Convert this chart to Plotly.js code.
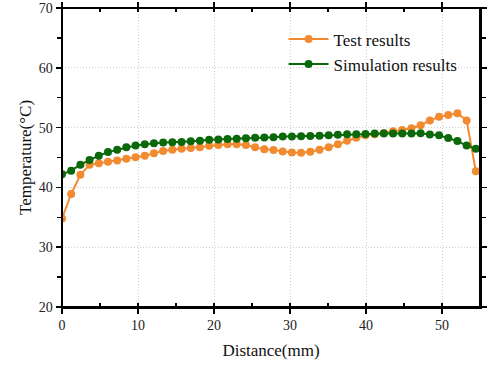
<!DOCTYPE html>
<html>
<head>
<meta charset="utf-8">
<script src="https://cdn.plot.ly/plotly-3.0.1.min.js"></script>
<style>html,body{margin:0;padding:0;background:#fff;}#chart{width:494px;height:368px;}</style>
</head>
<body>
<div id="chart"></div>
<script>
// Distance (mm)
var distance = [0, 1.21, 2.42, 3.63, 4.84, 6.05, 7.26, 8.47, 9.68, 10.89, 12.1, 13.31, 14.52, 15.73, 16.94, 18.15, 19.36, 20.57, 21.78, 22.99, 24.2, 25.41, 26.62, 27.83, 29.04, 30.25, 31.46, 32.67, 33.88, 35.09, 36.3, 37.51, 38.72, 39.93, 41.14, 42.35, 43.56, 44.77, 45.98, 47.19, 48.4, 49.61, 50.82, 52.03, 53.24, 54.45];
// Test results (°C)
var testResults = [34.8, 38.9, 42.1, 43.8, 44.05, 44.3, 44.5, 44.8, 45.05, 45.3, 45.7, 46.1, 46.3, 46.45, 46.6, 46.7, 46.95, 47.1, 47.2, 47.2, 47.1, 46.7, 46.4, 46.25, 46.0, 45.85, 45.8, 45.95, 46.3, 46.7, 47.2, 47.8, 48.3, 48.7, 48.9, 49.1, 49.4, 49.6, 49.9, 50.4, 51.2, 51.8, 52.1, 52.4, 51.2, 42.7];
// Simulation results (°C)
var simResults = [42.2, 42.8, 43.8, 44.6, 45.3, 45.9, 46.3, 46.7, 47.0, 47.2, 47.4, 47.5, 47.55, 47.6, 47.7, 47.8, 47.95, 48.0, 48.1, 48.15, 48.2, 48.3, 48.35, 48.4, 48.5, 48.5, 48.55, 48.6, 48.65, 48.7, 48.8, 48.9, 48.9, 48.95, 49.0, 49.0, 49.0, 49.0, 49.0, 49.05, 48.85, 48.7, 48.25, 47.75, 47.0, 46.45];
var seriesNames = ["Test results", "Simulation results"];
var xTicks = [0, 10, 20, 30, 40, 50];
var yTicks = [20, 30, 40, 50, 60, 70];
var xTitle = "Distance(mm)";
var yTitle = "Temperature(\u00B0C)";
var xRange = [0, 55];
var yRange = [20, 70];

var fontFam = "Liberation Serif";
var orange = "#F28A30";
var green = "#0B680B";

var traces = [
  {x: distance, y: testResults, name: seriesNames[0], type: "scatter", mode: "lines+markers",
   line: {color: orange, width: 2}, marker: {color: orange, size: 8, symbol: "circle"}},
  {x: distance, y: simResults, name: seriesNames[1], type: "scatter", mode: "lines+markers",
   line: {color: green, width: 2}, marker: {color: green, size: 8, symbol: "circle"}}
];

var axCommon = {showline: true, linecolor: "#000", linewidth: 1.5, zeroline: false, mirror: "allticks"};

var layout = {
  width: 494, height: 368,
  margin: {l: 62, r: 14, t: 8, b: 61},
  paper_bgcolor: "#fff", plot_bgcolor: "#fff",
  font: {family: fontFam, color: "#222"},
  showlegend: true,
  legend: {x: 0.53, y: 0.955, xanchor: "left", yanchor: "top", bgcolor: "rgba(0,0,0,0)",
           font: {family: fontFam, size: 17, color: "#111"}, itemwidth: 40, tracegroupgap: 0},
  xaxis: Object.assign({}, axCommon, {
    range: xRange, tickmode: "array", tickvals: xTicks, ticktext: xTicks.map(String),
    ticks: "outside", ticklen: 5, tickwidth: 1.5, tickcolor: "#000",
    minor: {dtick: 5, tick0: 0, ticks: "inside", ticklen: 4, tickwidth: 1.5, tickcolor: "#000", showgrid: false},
    showgrid: true, gridcolor: "#cfcfcf", griddash: "1px,2px", gridwidth: 1,
    tickfont: {family: fontFam, size: 14, color: "#222"}, ticklabeloverflow: "allow",
    title: {text: xTitle, font: {family: fontFam, size: 17, color: "#111"}, standoff: 12}
  }),
  yaxis: Object.assign({}, axCommon, {
    range: yRange, tickmode: "array", tickvals: yTicks, ticktext: yTicks.map(String),
    ticks: "outside", ticklen: 5, tickwidth: 1.5, tickcolor: "#000",
    minor: {dtick: 5, tick0: 0, ticks: "outside", ticklen: 4, tickwidth: 1.5, tickcolor: "#000", showgrid: false},
    showgrid: true, gridcolor: "#cfcfcf", griddash: "1px,2px", gridwidth: 1,
    tickfont: {family: fontFam, size: 14, color: "#222"}, ticklabeloverflow: "allow",
    title: {text: yTitle, font: {family: fontFam, size: 17, color: "#111"}, standoff: 3}
  }),
  shapes: [
    {type: "rect", xref: "paper", yref: "paper", x0: 0, x1: 1, y0: 0, y1: 1,
     line: {color: "#000", width: 2}, fillcolor: "rgba(0,0,0,0)", layer: "above"}
  ]
};

Plotly.newPlot("chart", traces, layout, {displayModeBar: false, staticPlot: true});
</script>
</body>
</html>
